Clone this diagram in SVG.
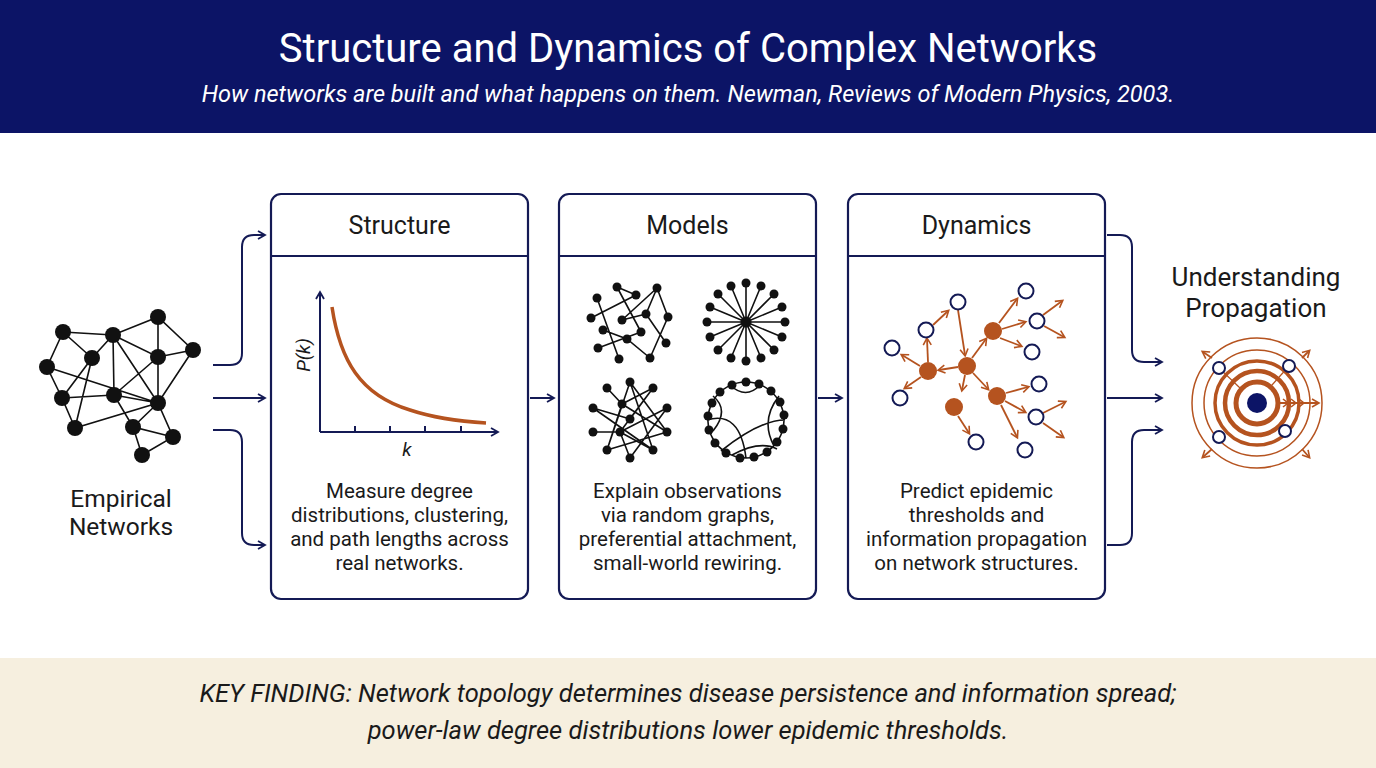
<svg xmlns="http://www.w3.org/2000/svg" width="1376" height="768" viewBox="0 0 1376 768">
<defs>
<style>
.t{font-family:"Roboto","Liberation Sans",sans-serif;fill:#1a1a1a}
.box{fill:#fff;stroke:#141a55;stroke-width:2.2}
.con{fill:none;stroke:#141a55;stroke-width:2}
.bk line,.bk path{stroke:#111;stroke-width:1.6;fill:none}
.bk circle{fill:#111}
.or{stroke:#b5531f;stroke-width:1.8;fill:none}
.oc{fill:#fff;stroke:#141a55;stroke-width:2}
.fc{fill:#b5531f}
</style>
<marker id="a" markerWidth="10" markerHeight="10" refX="8" refY="5" orient="auto" markerUnits="userSpaceOnUse"><path d="M1,1 L8,5 L1,9" fill="none" stroke="#141a55" stroke-width="1.8"/></marker>
<marker id="o" markerWidth="10" markerHeight="10" refX="7" refY="5" orient="auto" markerUnits="userSpaceOnUse"><path d="M1,1 L8,5 L1,9" fill="none" stroke="#b5531f" stroke-width="1.6"/></marker>
</defs>
<rect width="1376" height="768" fill="#fff"/>
<rect width="1376" height="133" fill="#0c1466"/>
<text x="688" y="62" text-anchor="middle" font-family="Roboto,'Liberation Sans',sans-serif" font-size="40" fill="#fff">Structure and Dynamics of Complex Networks</text>
<text x="688" y="102" text-anchor="middle" font-family="Roboto,'Liberation Sans',sans-serif" font-size="23.5" font-style="italic" fill="#fff">How networks are built and what happens on them. Newman, Reviews of Modern Physics, 2003.</text>
<rect y="658" width="1376" height="110" fill="#f6efdf"/>
<text x="688" y="702" text-anchor="middle" class="t" font-size="25.5" font-style="italic">KEY FINDING: Network topology determines disease persistence and information spread;</text>
<text x="688" y="739" text-anchor="middle" class="t" font-size="25.5" font-style="italic">power-law degree distributions lower epidemic thresholds.</text>

<g id="connectors">
<path class="con" marker-end="url(#a)" d="M213,365 H230 Q242,365 242,353 V247 Q242,235 254,235 H265"/>
<path class="con" marker-end="url(#a)" d="M213,398 H265"/>
<path class="con" marker-end="url(#a)" d="M213,430 H230 Q242,430 242,442 V533 Q242,545 254,545 H265"/>
<path class="con" marker-end="url(#a)" d="M530,398 H554"/>
<path class="con" marker-end="url(#a)" d="M818,398 H842"/>
<path class="con" marker-end="url(#a)" d="M1107,235 H1120 Q1132,235 1132,247 V350 Q1132,362 1144,362 H1162"/>
<path class="con" marker-end="url(#a)" d="M1107,398 H1162"/>
<path class="con" marker-end="url(#a)" d="M1107,545 H1120 Q1132,545 1132,533 V442 Q1132,430 1144,430 H1162"/>
</g>

<g id="empirical">
<g class="bk">
<path d="M63,332 L113,335 L158,317 L193,350 L158,357 L113,335 M158,317 L158,357 M63,332 L47,367 L62,398 L75,428 L158,403 L173,437 L142,455 L133,427 L173,437 M63,332 L92,358 L62,398 M47,367 L158,403 M92,358 L75,428 M113,335 L92,358 M113,335 L114,395 M113,335 L158,403 M158,357 L114,395 M158,357 L158,403 M193,350 L158,403 M62,398 L114,395 L158,403 M114,395 L133,427 L158,403"/>
<circle cx="63" cy="332" r="8"/><circle cx="113" cy="335" r="8"/><circle cx="158" cy="317" r="8"/><circle cx="193" cy="350" r="8"/><circle cx="158" cy="357" r="8"/><circle cx="92" cy="358" r="8"/><circle cx="47" cy="367" r="8"/><circle cx="62" cy="398" r="8"/><circle cx="114" cy="395" r="8"/><circle cx="158" cy="403" r="8"/><circle cx="75" cy="428" r="8"/><circle cx="133" cy="427" r="8"/><circle cx="173" cy="437" r="8"/><circle cx="142" cy="455" r="8"/>
</g>
<text x="121" y="507" text-anchor="middle" class="t" font-size="24.5">Empirical</text>
<text x="121" y="535" text-anchor="middle" class="t" font-size="24.5">Networks</text>
</g>

<g id="structure">
<rect class="box" x="271" y="194" width="257" height="405" rx="10"/>
<line x1="271" y1="256" x2="528" y2="256" stroke="#141a55" stroke-width="2"/>
<text x="399.5" y="234" text-anchor="middle" class="t" font-size="25">Structure</text>
<path class="con" marker-end="url(#a)" d="M320,432 V292"/>
<path class="con" marker-end="url(#a)" d="M320,432 H498"/>
<path class="con" d="M355,432 v-6 M390,432 v-6 M425,432 v-6 M461,432 v-6"/>
<path d="M332,307 C340,360 360,395 410,410 C440,420 470,422 486,423" fill="none" stroke="#b5531f" stroke-width="3.5"/>
<text transform="translate(310,355) rotate(-90)" text-anchor="middle" class="t" font-size="19" font-style="italic">P(k)</text>
<text x="407" y="456" text-anchor="middle" class="t" font-size="19" font-style="italic">k</text>
<text x="399.5" y="498" text-anchor="middle" class="t" font-size="20.5">Measure degree</text>
<text x="399.5" y="522" text-anchor="middle" class="t" font-size="20.5">distributions, clustering,</text>
<text x="399.5" y="546" text-anchor="middle" class="t" font-size="20.5">and path lengths across</text>
<text x="399.5" y="570" text-anchor="middle" class="t" font-size="20.5">real networks.</text>
</g>

<g id="models">
<rect class="box" x="559" y="194" width="257" height="405" rx="10"/>
<line x1="559" y1="256" x2="816" y2="256" stroke="#141a55" stroke-width="2"/>
<text x="687.5" y="234" text-anchor="middle" class="t" font-size="25">Models</text>
<g class="bk">
<path d="M617,287 L636,295 M597,298 L619,359 M591,318 L636,295 M617,287 L641,332 M657,288 L622,320 M657,288 L646,314 M657,288 L668,317 L650,358 M646,314 L666,343 M603,330 L627,339 L650,358 M598,348 L641,332 M622,320 L646,314"/>
<circle cx="617" cy="287" r="4.5"/><circle cx="636" cy="295" r="4.5"/><circle cx="657" cy="288" r="4.5"/><circle cx="597" cy="298" r="4.5"/><circle cx="591" cy="318" r="4.5"/><circle cx="622" cy="320" r="4.5"/><circle cx="646" cy="314" r="4.5"/><circle cx="668" cy="317" r="4.5"/><circle cx="603" cy="330" r="4.5"/><circle cx="641" cy="332" r="4.5"/><circle cx="627" cy="339" r="4.5"/><circle cx="598" cy="348" r="4.5"/><circle cx="666" cy="343" r="4.5"/><circle cx="619" cy="359" r="4.5"/><circle cx="650" cy="358" r="4.5"/>
<path d="M746,322 L746,283 M746,322 L761,286 M746,322 L774,294 M746,322 L782,307 M746,322 L785,322 M746,322 L782,337 M746,322 L774,350 M746,322 L761,358 M746,322 L746,361 M746,322 L731,358 M746,322 L718,350 M746,322 L710,337 M746,322 L707,322 M746,322 L710,307 M746,322 L718,294 M746,322 L731,286"/>
<circle cx="746" cy="322" r="5.5"/>
<circle cx="746" cy="283" r="4.5"/><circle cx="761" cy="286" r="4.5"/><circle cx="774" cy="294" r="4.5"/><circle cx="782" cy="307" r="4.5"/><circle cx="785" cy="322" r="4.5"/><circle cx="782" cy="337" r="4.5"/><circle cx="774" cy="350" r="4.5"/><circle cx="761" cy="358" r="4.5"/><circle cx="746" cy="361" r="4.5"/><circle cx="731" cy="358" r="4.5"/><circle cx="718" cy="350" r="4.5"/><circle cx="710" cy="337" r="4.5"/><circle cx="707" cy="322" r="4.5"/><circle cx="710" cy="307" r="4.5"/><circle cx="718" cy="294" r="4.5"/><circle cx="731" cy="286" r="4.5"/>
<path d="M607,388 L622,404 M593,408 L630,419 M593,432 L620,432 L667,408 M630,382 L607,450 M630,382 L653,450 M630,382 L667,432 M653,388 L622,404 M653,388 L630,419 M653,388 L620,432 M622,404 L607,450 M620,432 L653,450 M620,432 L630,458 M667,432 L607,450 M667,408 L630,458 M593,408 L653,450 M622,404 L667,432"/>
<circle cx="630" cy="382" r="4.5"/><circle cx="607" cy="388" r="4.5"/><circle cx="653" cy="388" r="4.5"/><circle cx="622" cy="404" r="4.5"/><circle cx="593" cy="408" r="4.5"/><circle cx="667" cy="408" r="4.5"/><circle cx="630" cy="419" r="4.5"/><circle cx="620" cy="432" r="4.5"/><circle cx="593" cy="432" r="4.5"/><circle cx="667" cy="432" r="4.5"/><circle cx="607" cy="450" r="4.5"/><circle cx="653" cy="450" r="4.5"/><circle cx="630" cy="458" r="4.5"/>
<path d="M746,382 A38,38 0 1,1 745.9,382 M730,385 Q746,400 760,385 M713,396 Q730,410 713,431 M779,396 Q760,420 774,446 M721,451 Q760,420 785,420 M732,455 Q760,440 777,449 M707,420 Q740,410 746,458"/>
<circle cx="746" cy="382" r="4.5"/><circle cx="759" cy="384" r="4.5"/><circle cx="771" cy="391" r="4.5"/><circle cx="780" cy="402" r="4.5"/><circle cx="784" cy="415" r="4.5"/><circle cx="783" cy="429" r="4.5"/><circle cx="777" cy="442" r="4.5"/><circle cx="767" cy="452" r="4.5"/><circle cx="754" cy="457" r="4.5"/><circle cx="740" cy="458" r="4.5"/><circle cx="726" cy="453" r="4.5"/><circle cx="715" cy="443" r="4.5"/><circle cx="709" cy="430" r="4.5"/><circle cx="708" cy="416" r="4.5"/><circle cx="712" cy="403" r="4.5"/><circle cx="720" cy="392" r="4.5"/><circle cx="732" cy="385" r="4.5"/>
</g>
<text x="687.5" y="498" text-anchor="middle" class="t" font-size="20.5">Explain observations</text>
<text x="687.5" y="522" text-anchor="middle" class="t" font-size="20.5">via random graphs,</text>
<text x="687.5" y="546" text-anchor="middle" class="t" font-size="20.5">preferential attachment,</text>
<text x="687.5" y="570" text-anchor="middle" class="t" font-size="20.5">small-world rewiring.</text>
</g>

<g id="dynamics">
<rect class="box" x="848" y="194" width="257" height="405" rx="10"/>
<line x1="848" y1="256" x2="1105" y2="256" stroke="#141a55" stroke-width="2"/>
<text x="976.5" y="234" text-anchor="middle" class="t" font-size="25">Dynamics</text>
<g marker-end="url(#o)">
<line class="or" x1="958" y1="310" x2="965" y2="355"/>
<line class="or" x1="958" y1="367" x2="939" y2="370"/>
<line class="or" x1="972" y1="358" x2="986" y2="339"/>
<line class="or" x1="973" y1="373" x2="988" y2="389"/>
<line class="or" x1="965" y1="375" x2="962" y2="390"/>
<line class="or" x1="928" y1="362" x2="927" y2="339"/>
<line class="or" x1="920" y1="366" x2="902" y2="355"/>
<line class="or" x1="921" y1="377" x2="905" y2="388"/>
<line class="or" x1="933" y1="325" x2="948" y2="311"/>
<line class="or" x1="999" y1="323" x2="1017" y2="299"/>
<line class="or" x1="1002" y1="329" x2="1025" y2="322"/>
<line class="or" x1="1000" y1="338" x2="1021" y2="346"/>
<line class="or" x1="1043" y1="315" x2="1062" y2="301"/>
<line class="or" x1="1044" y1="326" x2="1064" y2="337"/>
<line class="or" x1="1006" y1="393" x2="1028" y2="387"/>
<line class="or" x1="1005" y1="401" x2="1025" y2="412"/>
<line class="or" x1="1001" y1="405" x2="1017" y2="437"/>
<line class="or" x1="1043" y1="413" x2="1065" y2="402"/>
<line class="or" x1="1043" y1="423" x2="1063" y2="437"/>
<line class="or" x1="958" y1="416" x2="969" y2="433"/>
</g>
<circle class="oc" cx="958" cy="302" r="7.5"/><circle class="oc" cx="926" cy="330" r="7.5"/><circle class="oc" cx="892" cy="348" r="7.5"/><circle class="oc" cx="900" cy="398" r="7.5"/><circle class="oc" cx="1026" cy="291" r="7.5"/><circle class="oc" cx="1037" cy="321" r="7.5"/><circle class="oc" cx="1032" cy="352" r="7.5"/><circle class="oc" cx="1039" cy="384" r="7.5"/><circle class="oc" cx="1036" cy="417" r="7.5"/><circle class="oc" cx="976" cy="442" r="7.5"/><circle class="oc" cx="1025" cy="450" r="7.5"/>
<circle class="fc" cx="967" cy="366" r="9"/><circle class="fc" cx="928" cy="371" r="9"/><circle class="fc" cx="993" cy="331" r="9"/><circle class="fc" cx="997" cy="396" r="9"/><circle class="fc" cx="954" cy="407" r="9"/>
<text x="976.5" y="498" text-anchor="middle" class="t" font-size="20.5">Predict epidemic</text>
<text x="976.5" y="522" text-anchor="middle" class="t" font-size="20.5">thresholds and</text>
<text x="976.5" y="546" text-anchor="middle" class="t" font-size="20.5">information propagation</text>
<text x="976.5" y="570" text-anchor="middle" class="t" font-size="20.5">on network structures.</text>
</g>

<g id="propagation">
<text x="1256" y="286" text-anchor="middle" class="t" font-size="26">Understanding</text>
<text x="1256" y="317" text-anchor="middle" class="t" font-size="26">Propagation</text>
<circle cx="1257" cy="403" r="65" fill="none" stroke="#b5531f" stroke-width="1.5"/>
<circle cx="1257" cy="403" r="53" fill="none" stroke="#b5531f" stroke-width="1.5"/>
<circle cx="1257" cy="403" r="42" fill="none" stroke="#b5531f" stroke-width="3.5"/>
<circle cx="1257" cy="403" r="32" fill="none" stroke="#b5531f" stroke-width="4.5"/>
<circle cx="1257" cy="403" r="21" fill="none" stroke="#b5531f" stroke-width="5"/>
<line x1="1219" y1="368" x2="1240" y2="388" stroke="#b5531f" stroke-width="1.2"/>
<line x1="1289" y1="366" x2="1272" y2="385" stroke="#b5531f" stroke-width="1.2"/>
<g marker-end="url(#o)">
<line class="or" x1="1212" y1="358" x2="1203" y2="352"/>
<line class="or" x1="1302" y1="358" x2="1309" y2="351"/>
<line class="or" x1="1212" y1="449" x2="1203" y2="457"/>
<line class="or" x1="1302" y1="449" x2="1309" y2="457"/>
<line class="or" x1="1278" y1="403" x2="1318" y2="403"/>
</g>
<path d="M1283,399 l5,4 l-5,4 M1291,399 l5,4 l-5,4 M1299,399 l5,4 l-5,4" fill="none" stroke="#b5531f" stroke-width="1.6"/>
<circle cx="1257" cy="403" r="10" fill="#0c1466"/>
<circle class="oc" cx="1219" cy="368" r="6" stroke-width="1.5"/><circle class="oc" cx="1289" cy="366" r="6" stroke-width="1.5"/><circle class="oc" cx="1219" cy="437" r="6" stroke-width="1.5"/><circle class="oc" cx="1285" cy="431" r="6" stroke-width="1.5"/>
</g>
</svg>
